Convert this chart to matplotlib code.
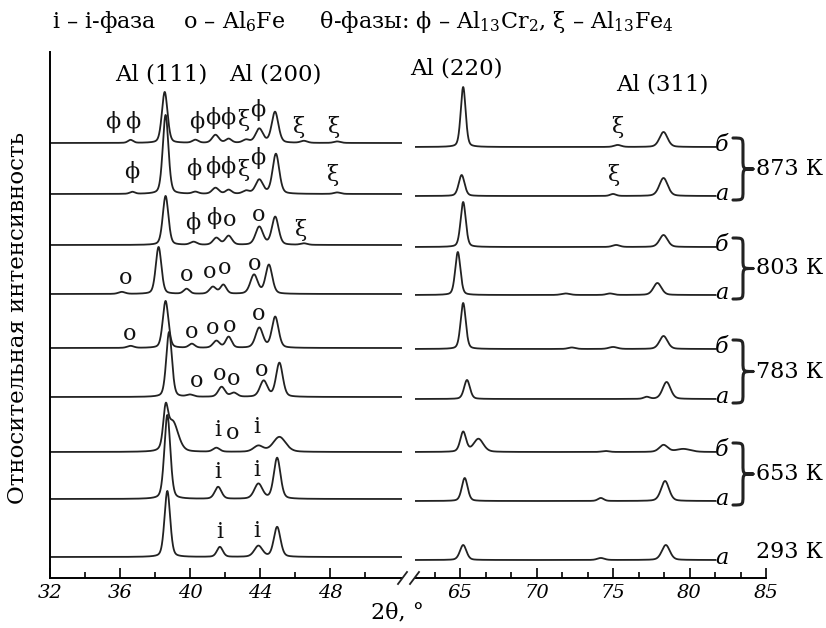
import numpy as np
import matplotlib
matplotlib.use('Agg')
import matplotlib.pyplot as plt
from matplotlib.path import Path
from matplotlib.patches import PathPatch
from matplotlib.ticker import MultipleLocator, FixedLocator
from matplotlib.lines import Line2D

plt.rcParams['font.family'] = ['DejaVu Serif']
plt.rcParams['mathtext.fontset'] = 'dejavuserif'

# ---------------- data ----------------
trace_letters = ['б', 'а', 'б', 'а', 'б', 'а', 'б', 'а', 'а']
temperatures = ['873 К', '803 К', '783 К', '653 К', '293 К']

# peaks: (2theta, height, fwhm), heights in relative units
left_873b = [(36.6, 3, 0.35), (38.55, 51, 0.38), (40.3, 3, 0.4), (41.45, 8, 0.45), (42.2, 4, 0.4),
             (43.2, 3, 0.45), (43.95, 14, 0.5), (44.85, 31, 0.45), (46.5, 2, 0.45), (48.4, 1.5, 0.45)]
left_873a = [(36.7, 2, 0.35), (38.6, 79, 0.38), (40.3, 2, 0.4), (41.45, 6, 0.45), (42.2, 4, 0.4),
             (43.2, 3, 0.45), (43.95, 14, 0.5), (44.9, 40, 0.45), (48.4, 1.5, 0.45)]
left_803b = [(38.6, 49, 0.38), (40.2, 3, 0.45), (41.5, 7, 0.45), (42.2, 9, 0.45),
             (43.95, 18, 0.5), (44.86, 28, 0.45), (46.5, 1.5, 0.45)]
left_803a = [(36.1, 2, 0.45), (38.2, 47, 0.38), (39.8, 5, 0.4), (41.3, 7, 0.45), (41.9, 9, 0.4),
             (43.65, 19, 0.5), (44.5, 29, 0.45)]
left_783b = [(36.6, 2, 0.45), (38.6, 47, 0.38), (40.1, 4, 0.4), (41.5, 7, 0.45), (42.2, 11, 0.4),
             (43.95, 20, 0.5), (44.86, 31, 0.45)]
left_783a = [(38.8, 65, 0.38), (40.0, 2, 0.45), (41.8, 10, 0.45), (42.5, 4, 0.45),
             (44.2, 16, 0.5), (45.1, 34, 0.45)]
left_653b = [(38.6, 35, 0.32), (39.0, 30, 0.75), (41.5, 4, 0.45), (43.9, 6, 0.65), (45.1, 15, 0.85)]
left_653a = [(38.7, 84, 0.4), (41.6, 12, 0.45), (43.9, 15, 0.55), (44.97, 41, 0.45)]
left_293a = [(38.7, 66, 0.38), (41.7, 10, 0.4), (43.9, 11, 0.55), (44.97, 30, 0.45)]

right_873b = [(65.2, 60, 0.38), (75.3, 2, 0.55), (78.3, 15, 0.62)]
right_873a = [(65.1, 21, 0.45), (75.0, 2, 0.45), (78.3, 18, 0.65)]
right_803b = [(65.2, 45, 0.4), (75.2, 2, 0.55), (78.3, 12, 0.62)]
right_803a = [(64.85, 43, 0.4), (71.9, 1.5, 0.65), (74.8, 1.5, 0.55), (77.9, 12, 0.62)]
right_783b = [(65.2, 46, 0.4), (72.3, 1.5, 0.55), (75.0, 2, 0.65), (78.3, 13, 0.62)]
right_783a = [(65.45, 19, 0.45), (77.2, 2, 0.45), (78.5, 17, 0.62)]
right_653b = [(65.2, 20, 0.45), (66.2, 13, 0.75), (74.5, 1, 0.55), (78.3, 7, 0.65), (79.6, 3, 1.1)]
right_653a = [(65.3, 23, 0.45), (74.2, 3, 0.45), (78.4, 20, 0.62)]
right_293a = [(65.2, 15, 0.5), (74.2, 2, 0.55), (78.45, 15, 0.62)]

left_peaks = [left_873b, left_873a, left_803b, left_803a, left_783b, left_783a,
              left_653b, left_653a, left_293a]
right_peaks = [right_873b, right_873a, right_803b, right_803a, right_783b, right_783a,
               right_653b, right_653a, right_293a]

# phase marks: (symbol, 2theta, height level)
phase_marks_left = [
    ('ϕ', 35.6, 456), ('ϕ', 36.74, 456), ('ϕ', 40.4, 456), ('ϕ', 41.31, 460), ('ϕ', 42.17, 460),
    ('ξ', 43.03, 458), ('ϕ', 43.89, 468), ('ξ', 46.17, 451), ('ξ', 48.17, 451),
    ('ϕ', 36.69, 406), ('ϕ', 40.23, 409), ('ϕ', 41.31, 411), ('ϕ', 42.17, 411), ('ξ', 43.03, 408),
    ('ϕ', 43.89, 420), ('ξ', 48.11, 403),
    ('ϕ', 40.17, 355), ('ϕ', 41.37, 360), ('o', 42.23, 358), ('o', 43.94, 363), ('ξ', 46.29, 348),
    ('o', 36.29, 300), ('o', 39.83, 303), ('o', 41.09, 306), ('o', 42.0, 310), ('o', 43.66, 314),
    ('o', 36.57, 244), ('o', 40.11, 246), ('o', 41.31, 250), ('o', 42.23, 252), ('o', 43.89, 264),
    ('o', 40.4, 197), ('o', 41.66, 204), ('o', 42.51, 199), ('o', 44.11, 208),
    ('i', 41.6, 148), ('o', 42.4, 145), ('i', 43.83, 151),
    ('i', 41.6, 106), ('i', 43.83, 108),
    ('i', 41.71, 46), ('i', 43.83, 47),
]
phase_marks_right = [('ξ', 75.26, 451), ('ξ', 75.0, 403)]

# ---------------- layout ----------------
W, H = 826, 628
left_offsets = [435, 384, 333, 284, 230, 181, 126, 79, 21]
right_offsets = [431, 382, 331, 283, 229, 179, 126, 77, 18]
Y_TOP = 526

fig = plt.figure(figsize=(W / 100, H / 100), dpi=100)
axL = fig.add_axes([50 / W, (H - 578) / H, 352 / W, 526 / H])
axR = fig.add_axes([415 / W, (H - 578) / H, 351 / W, 526 / H])

def profile(x, peaks):
    y = np.zeros_like(x)
    for c, h, w in peaks:
        u = (x - c) / w
        y += h * (0.7 * np.exp(-4 * np.log(2) * u ** 2) + 0.3 / (1 + 4 * u ** 2))
    return y

xL = np.linspace(32, 52.1, 3000)
xR = np.linspace(62.05, 81.7, 3000)
lc = '#222222'
for pk, off in zip(left_peaks, left_offsets):
    axL.plot(xL, off + profile(xL, pk), color=lc, lw=1.3)
for pk, off in zip(right_peaks, right_offsets):
    axR.plot(xR, off + profile(xR, pk), color=lc, lw=1.3)

axL.set_xlim(32, 52.1)
axR.set_xlim(62.05, 85)
for ax in (axL, axR):
    ax.set_ylim(0, Y_TOP)
    ax.set_yticks([])
    ax.spines['top'].set_visible(False)
    ax.spines['right'].set_visible(False)
    ax.spines['bottom'].set_linewidth(1.4)
    ax.tick_params(axis='x', which='major', direction='in', length=7, width=1.2,
                   labelsize=14, pad=4)
    ax.tick_params(axis='x', which='minor', direction='in', length=4, width=1.2)
    ax.patch.set_alpha(0)
axR.spines['left'].set_visible(False)
axL.spines['left'].set_linewidth(1.4)

axL.xaxis.set_major_locator(FixedLocator([32, 36, 40, 44, 48]))
axL.xaxis.set_minor_locator(FixedLocator([34, 38, 42, 46, 50]))
axR.xaxis.set_major_locator(FixedLocator([65, 70, 75, 80, 85]))
axR.xaxis.set_minor_locator(MultipleLocator(5 / 3))
for ax in (axL, axR):
    for lab in ax.get_xticklabels():
        lab.set_fontstyle('italic')

# break marks
def figline(x0, y0, x1, y1):
    fig.add_artist(Line2D([x0 / W, x1 / W], [1 - y0 / H, 1 - y1 / H], color=lc, lw=1.3))
figline(398, 584, 407, 572)
figline(410, 584, 419, 572)

# phase marks
for s, x, y in phase_marks_left:
    axL.text(x, y, s, ha='center', va='center', fontsize=16, color='#111111')
for s, x, y in phase_marks_right:
    axR.text(x, y, s, ha='center', va='center', fontsize=16, color='#111111')

# Al reflections
axL.text(38.34, 503, 'Al (111)', ha='center', va='center', fontsize=16.5)
axL.text(44.86, 503, 'Al (200)', ha='center', va='center', fontsize=16.5)
axR.text(64.74, 510, 'Al (220)', ha='center', va='center', fontsize=16.5)
axR.text(78.2, 493, 'Al (311)', ha='center', va='center', fontsize=16.5)

# letters a / б
for letter, off in zip(trace_letters, right_offsets):
    axR.text(82.12, off + 2, letter, ha='center', va='center', fontsize=16, style='italic')

# braces
def brace(ax, x0, x1, ytop, ybot):
    xm = (x0 + x1) / 2
    ymid = (ytop + ybot) / 2
    q = (ytop - ybot) * 0.15
    verts = [(x0, ytop),
             (xm, ytop), (xm, ytop), (xm, ytop - q),
             (xm, ymid + q),
             (xm, ymid), (xm, ymid), (x1, ymid),
             (xm, ymid), (xm, ymid), (xm, ymid - q),
             (xm, ybot + q),
             (xm, ybot), (xm, ybot), (x0, ybot)]
    codes = [Path.MOVETO,
             Path.CURVE4, Path.CURVE4, Path.CURVE4,
             Path.LINETO,
             Path.CURVE4, Path.CURVE4, Path.CURVE4,
             Path.CURVE4, Path.CURVE4, Path.CURVE4,
             Path.LINETO,
             Path.CURVE4, Path.CURVE4, Path.CURVE4]
    ax.add_patch(PathPatch(Path(verts, codes), fill=False, lw=2.2, color=lc, clip_on=False,
                           capstyle='round', joinstyle='round'))
    return ymid

for k in range(4):
    yb = right_offsets[2 * k]
    ya = right_offsets[2 * k + 1]
    ym = brace(axR, 82.84, 84.15, yb + 9, ya - 4)
    axR.text(84.35, ym, temperatures[k], ha='left', va='center', fontsize=16)
axR.text(84.35, right_offsets[8] + 8, temperatures[4], ha='left', va='center', fontsize=16)

# axis labels and legend
fig.text(18 / W, 1 - 318 / H, 'Относительная интенсивность', rotation=90,
         ha='center', va='center', fontsize=16.5)
fig.text(397 / W, 1 - 612 / H, '2θ, °', ha='center', va='center', fontsize=16)
fig.text(52 / W, 1 - 22 / H,
         r'i – i-фаза    o – Al$_6$Fe     θ-фазы: ϕ – Al$_{13}$Cr$_2$, ξ – Al$_{13}$Fe$_4$',
         ha='left', va='center', fontsize=16)

fig.savefig('out.png', dpi=100, facecolor='white')
